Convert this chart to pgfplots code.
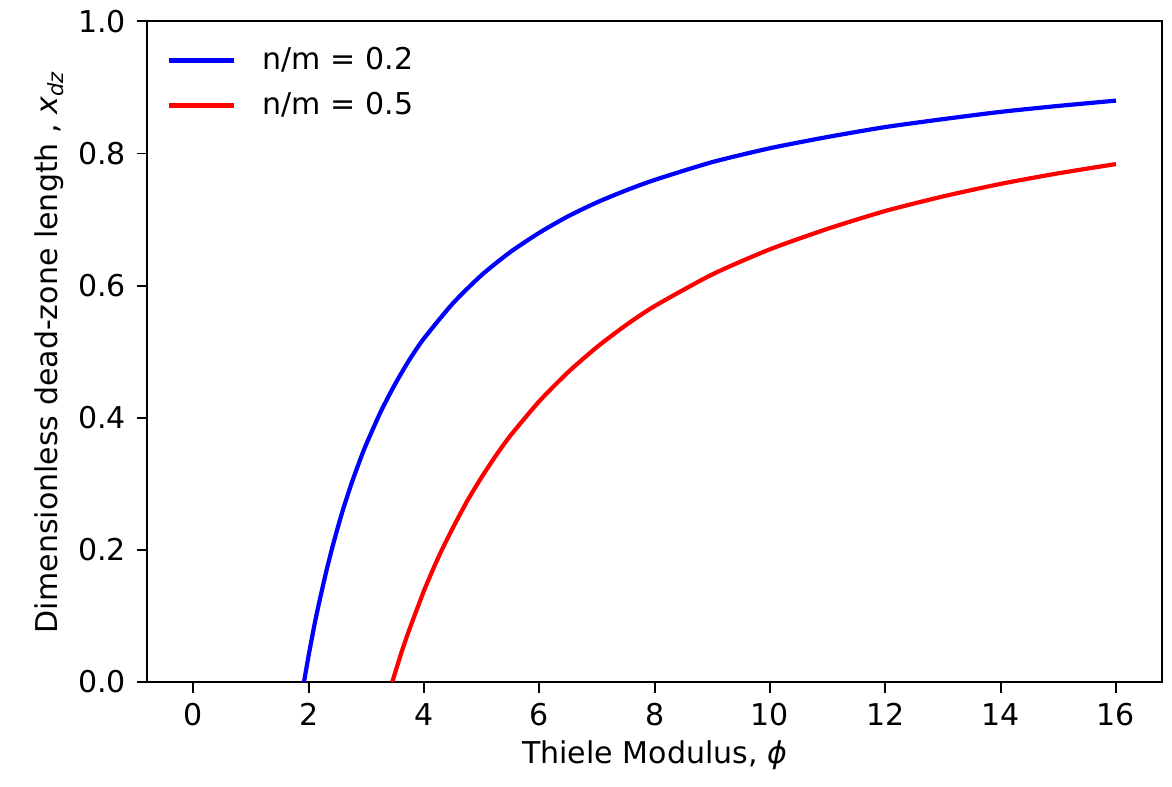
\documentclass[border=0pt]{standalone}
\usepackage{fontspec}
\setmainfont{DejaVu Sans}
\usepackage{pgfplots}
\pgfplotsset{compat=1.18}

\begin{document}
\begin{tikzpicture}
\begin{axis}[
    scale only axis,
    width=338pt, height=220pt,
    xmin=-0.8, xmax=16.8,
    ymin=0, ymax=1,
    xtick={0,2,...,16},
    ytick={0,0.2,...,1.0},
    yticklabel style={/pgf/number format/.cd, fixed, fixed zerofill, precision=1},
    /pgf/number format/assume math mode=true,
    tick align=outside,
    major tick length=3.5pt,
    tick style={black, line width=0.6pt},
    axis line style={line width=0.6pt},
    xtick pos=bottom, ytick pos=left,
    font=\fontsize{10}{12}\selectfont,
    xlabel={Thiele Modulus, \textit{ϕ}},
    ylabel={Dimensionless dead-zone length , \textit{x}\textsubscript{\textit{dz}}},
    xlabel style={yshift=2pt},
    ylabel style={yshift=-2pt},
    legend style={draw=none, fill=none, at={(0.02,0.98)}, anchor=north west,
        xshift=-3.3pt, row sep=2pt},
    legend cell align=left,
    legend image code/.code={\draw[#1] (0cm,0cm) -- (0.76cm,0cm); \path (1.0cm,0cm);},
]
\addplot[color={rgb,1:red,0;green,0;blue,1}, line width=1.4pt, smooth, tension=0.4] coordinates {
 (1.92,0) (1.95,0.015) (2.0,0.04) (2.05,0.063) (2.1,0.086) (2.15,0.107) (2.2,0.127)
 (2.3,0.165) (2.4,0.2) (2.5,0.232) (2.6,0.262) (2.75,0.302) (2.9,0.338) (3,0.36)
 (3.25,0.409) (3.5,0.451) (3.75,0.488)
 (4,0.52) (4.5,0.573) (5,0.616) (5.5,0.651) (6,0.68) (6.5,0.705)
 (7,0.726) (7.5,0.744) (8,0.76) (9,0.787) (10,0.808) (11,0.825)
 (12,0.84) (13,0.852) (14,0.863) (15,0.872) (16,0.88)
};
\addlegendentry{n/m = 0.2}
\addplot[color={rgb,1:red,1;green,0;blue,0}, line width=1.4pt, smooth, tension=0.4] coordinates {
 (3.45,0) (3.5,0.014) (3.6,0.042) (3.7,0.068) (3.8,0.092) (3.9,0.115) (4.0,0.138)
 (4.15,0.169) (4.3,0.198) (4.5,0.233) (4.75,0.274) (5,0.31) (5.25,0.343) (5.5,0.373) (6,0.425)
 (6.5,0.469) (7,0.507) (7.5,0.54) (8,0.569) (9,0.617) (10,0.655)
 (11,0.686) (12,0.713) (13,0.735) (14,0.754) (15,0.77) (16,0.784)
};
\addlegendentry{n/m = 0.5}
\end{axis}
\path ([xshift=-49pt,yshift=-34.7pt]current axis.south west) rectangle ([xshift=3.3pt,yshift=6.7pt]current axis.north east);
\end{tikzpicture}
\end{document}
